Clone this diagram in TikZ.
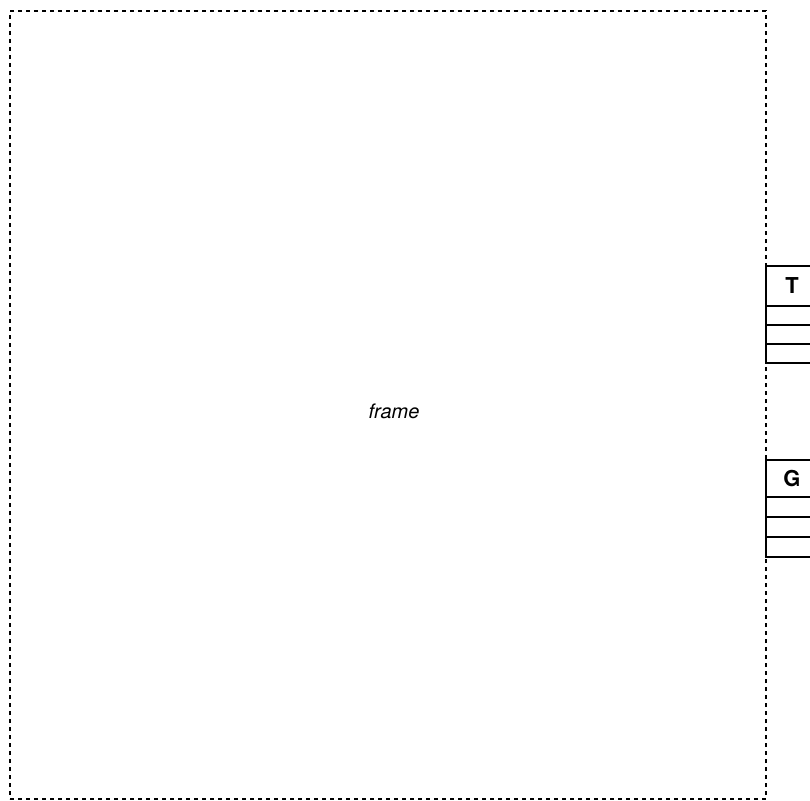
\documentclass[tikz,border=0pt]{standalone}
\usepackage{fontspec}
\setmainfont{TeX Gyre Heros}
\usetikzlibrary{positioning}
\tikzset{
  outline/.style={draw,dash pattern=on 4bp off 4bp,line width=2bp,inner sep=0pt,outer sep=0pt},
  slot/.style={draw,line width=2bp,minimum width=52bp,inner sep=0pt,outer sep=0pt},
}

\begin{document}
\begin{tikzpicture}[x=1bp,y=-1bp]
    \useasboundingbox (0,0) rectangle (810,801);
    \clip (0,0) rectangle (810,801);
    \node[outline,minimum width=756bp,minimum height=788bp,anchor=north west] (frame) at (10,11) {};
    \node[font=\itshape\fontsize{20}{24}\selectfont] (framelabel) at (394,411) {frame};
    % the two side boxes: header and three rows
    \foreach \n/\y/\h/\r in {T/266/40/19,G/460/37/20}
    {
      \node[slot,minimum height=\h bp,anchor=north west,font=\bfseries\fontsize{22}{26}\selectfont] (\n) at (766,\y) {\n};
      \node[slot,minimum height=\r bp,below=0pt of \n] (\n-1) {};
      \node[slot,minimum height=\r bp,below=0pt of \n-1] (\n-2) {};
      \node[slot,minimum height=\r bp,below=0pt of \n-2] (\n-3) {};
    }
  \end{tikzpicture}
\end{document}
